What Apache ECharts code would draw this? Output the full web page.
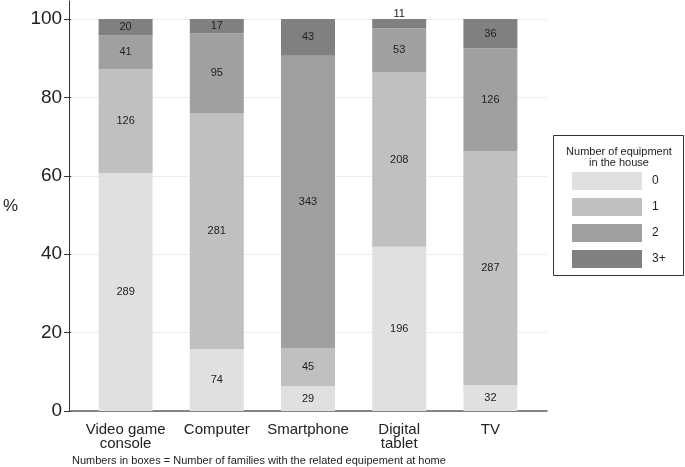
<!DOCTYPE html>
<html>
<head>
<meta charset="utf-8">
<script src="https://cdn.jsdelivr.net/npm/echarts@6/dist/echarts.min.js"></script>
<style>
  html, body { margin: 0; padding: 0; background: #fff; }
  #main { width: 685px; height: 467px; }
</style>
</head>
<body>
<div id="main"></div>
<script>
const categories = ["Video game\nconsole", "Computer", "Smartphone", "Digital\ntablet", "TV"];
const levels = ["0", "1", "2", "3+"];
const count0 = [289, 74, 29, 196, 32];
const count1 = [126, 281, 45, 208, 287];
const count2 = [41, 95, 343, 53, 126];
const count3 = [20, 17, 43, 11, 36];
const yTicks = [0, 20, 40, 60, 80, 100];
const colors = ["#e0e0e0", "#c0c0c0", "#a0a0a0", "#808080"];

const counts = [count0, count1, count2, count3];
const totals = categories.map((_, i) => counts.reduce((s, c) => s + c[i], 0));

const font = "Liberation Sans, Arial, sans-serif";
const chart = echarts.init(document.getElementById("main"));

const series = counts.map((cnt, k) => ({
  name: levels[k],
  type: "bar",
  stack: "all",
  xAxisIndex: 2,
  yAxisIndex: 2,
  barWidth: 54,
  itemStyle: { color: colors[k] },
  label: {
    show: true,
    position: "inside",
    fontFamily: font,
    fontSize: 11,
    color: "#222",
    formatter: (p) => String(cnt[p.dataIndex]),
  },
  data: cnt.map((v, i) => {
    const item = { value: (v / totals[i]) * 100 };
    // tiny top segment: label sits just above the bar
    if (k === 3 && v / totals[i] < 0.03) {
      item.label = { position: "top", distance: 0 };
    }
    return item;
  }),
}));

const options = {
  animation: false,
  textStyle: { fontFamily: font },
  grid: [
    { left: 69, right: 138, top: 19, bottom: 56 },
    { left: 69, right: 138, top: 1, bottom: 56 },
    { left: 80, right: 149, top: 19, bottom: 56 },
  ],
  xAxis: [
    {
      gridIndex: 0, type: "value", min: 0, max: 1,
      axisLine: { show: true, lineStyle: { color: "#5f5f5f", width: 1.5 } },
      axisTick: { show: false }, axisLabel: { show: false }, splitLine: { show: false },
    },
    { gridIndex: 1, type: "value", show: false },
    {
      gridIndex: 2, type: "category", data: categories,
      axisLine: { show: false }, axisTick: { show: false },
      axisLabel: { interval: 0, fontFamily: font, fontSize: 15, color: "#222", lineHeight: 14, margin: 12 },
    },
  ],
  yAxis: [
    {
      gridIndex: 0, type: "value", min: 0, max: 100, interval: 20,
      name: "%", nameLocation: "middle", nameGap: 53, nameRotate: 0,
      nameTextStyle: { fontFamily: font, fontSize: 17, color: "#222", verticalAlign: "bottom" },
      axisLine: { show: false },
      axisTick: { show: true, length: 7, lineStyle: { color: "#333" } },
      axisLabel: {
        fontFamily: font, fontSize: 19, color: "#222", margin: 9,
        formatter: (v) => (yTicks.includes(v) ? String(v) : ""),
      },
      splitLine: { show: true, lineStyle: { color: "#e8f0f2", width: 1 } },
    },
    {
      gridIndex: 1, type: "value", min: 0, max: 1,
      axisLine: { show: true, lineStyle: { color: "#333", width: 1 } },
      axisTick: { show: false }, axisLabel: { show: false }, splitLine: { show: false },
    },
    { gridIndex: 2, type: "value", min: 0, max: 100, show: false },
  ],
  legend: {
    orient: "vertical",
    left: 572,
    top: 172,
    padding: 0,
    itemWidth: 70,
    itemHeight: 18,
    itemGap: 8,
    icon: "rect",
    data: levels,
    textStyle: { fontFamily: font, fontSize: 12, color: "#222", padding: [0, 0, 0, 5] },
  },
  title: [
    {
      text: "Number of equipment\nin the house",
      left: 619, top: 146, textAlign: "center", padding: 0,
      textStyle: { fontFamily: font, fontSize: 11, fontWeight: "normal", color: "#222", lineHeight: 11 },
    },
    {
      text: "Numbers in boxes = Number of families with the related equipement at home",
      left: 72, top: 455, padding: 0,
      textStyle: { fontFamily: font, fontSize: 11, fontWeight: "normal", color: "#222" },
    },
  ],
  graphic: [
    {
      type: "rect",
      shape: { x: 553.5, y: 135.5, width: 130, height: 140 },
      style: { fill: "none", stroke: "#333", lineWidth: 1 },
    },
  ],
  series,
};

chart.setOption(options);
</script>
</body>
</html>
